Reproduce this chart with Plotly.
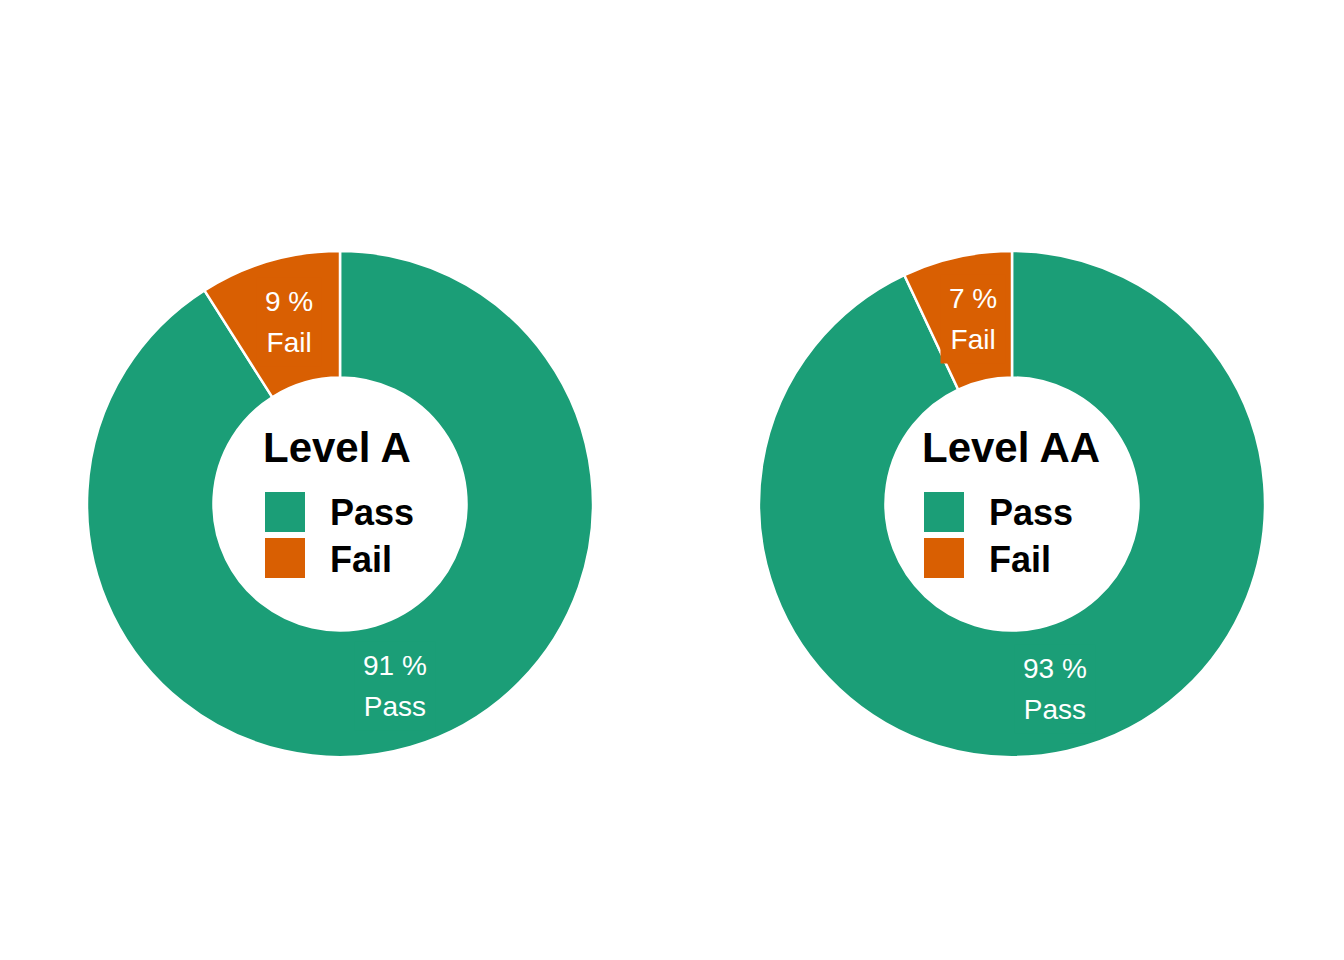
import math
import plotly.graph_objects as go

# data
levels = ["Level A", "Level AA"]
categories = ["Pass", "Fail"]
percent_a = [91, 9]
percent_aa = [93, 7]
colors = ["#1B9E77", "#D95F02"]

W, H = 1344, 960
OFF = 8  # page body margin in the browser
centers_px = [(340, 504), (1012, 504)]
legend_left_px = [263, 922]
radius_px = 253
hole = 0.5
FONT = "Liberation Sans, Arial, sans-serif"


def px_x(x):
    return (x - OFF) / W


def px_y(y):
    return 1 - (y - OFF) / H


fig = go.Figure()
annotations = []
shapes = []

for i, (level, vals) in enumerate(zip(levels, [percent_a, percent_aa])):
    cx, cy = centers_px[i]
    fig.add_trace(go.Pie(
        labels=categories,
        values=vals,
        hole=hole,
        sort=False,
        direction="clockwise",
        rotation=0,
        domain=dict(x=[px_x(cx - radius_px), px_x(cx + radius_px)],
                    y=[px_y(cy + radius_px), px_y(cy - radius_px)]),
        marker=dict(colors=colors, line=dict(color="white", width=2.5)),
        textinfo="none",
        hoverinfo="label+percent",
        showlegend=False,
        name=level,
    ))

    # labels sit at the middle of the ring, at each slice's centre angle
    total = sum(vals)
    start = 0.0
    mid_r = radius_px * (1 + hole) / 2
    for cat, v, col in zip(categories, vals, colors):
        frac = v / total
        ang = 2 * math.pi * (start + frac / 2)
        start += frac
        # outer font size sets the line spacing, inner spans the glyph size
        label = (f"<span style='font-size:28px'>{v} %</span><br>"
                 f"<span style='font-size:28px'>{cat}</span>")
        annotations.append(dict(
            x=px_x(cx + mid_r * math.sin(ang) + 2), y=px_y(cy - mid_r * math.cos(ang)),
            xref="paper", yref="paper", xanchor="center", yanchor="middle",
            text=label, showarrow=False,
            font=dict(family=FONT, size=31.5, color="white"),
            bgcolor=col, borderpad=8, align="center",
        ))

    # legend in the hole of each donut
    lx = legend_left_px[i]
    annotations.append(dict(
        x=px_x(lx - 2), y=px_y(cy - 56), xref="paper", yref="paper",
        xanchor="left", yanchor="middle", showarrow=False,
        text=f"<b>{level}</b>", font=dict(family=FONT, size=42, color="black"),
    ))
    for k, (cat, col) in enumerate(zip(categories, colors)):
        top = cy - 12 + k * 46
        shapes.append(dict(
            type="rect", xref="paper", yref="paper",
            x0=px_x(lx + 2), x1=px_x(lx + 42), y0=px_y(top + 40), y1=px_y(top),
            fillcolor=col, line=dict(width=0),
        ))
        annotations.append(dict(
            x=px_x(lx + 65), y=px_y(top + 21), xref="paper", yref="paper",
            xanchor="left", yanchor="middle", showarrow=False,
            text=f"<b>{cat}</b>", font=dict(family=FONT, size=36, color="black"),
        ))

fig.update_layout(
    width=W, height=H,
    margin=dict(l=0, r=0, t=0, b=0),
    paper_bgcolor="white",
    plot_bgcolor="white",
    showlegend=False,
    annotations=annotations,
    shapes=shapes,
)

fig.write_html("out.html")
